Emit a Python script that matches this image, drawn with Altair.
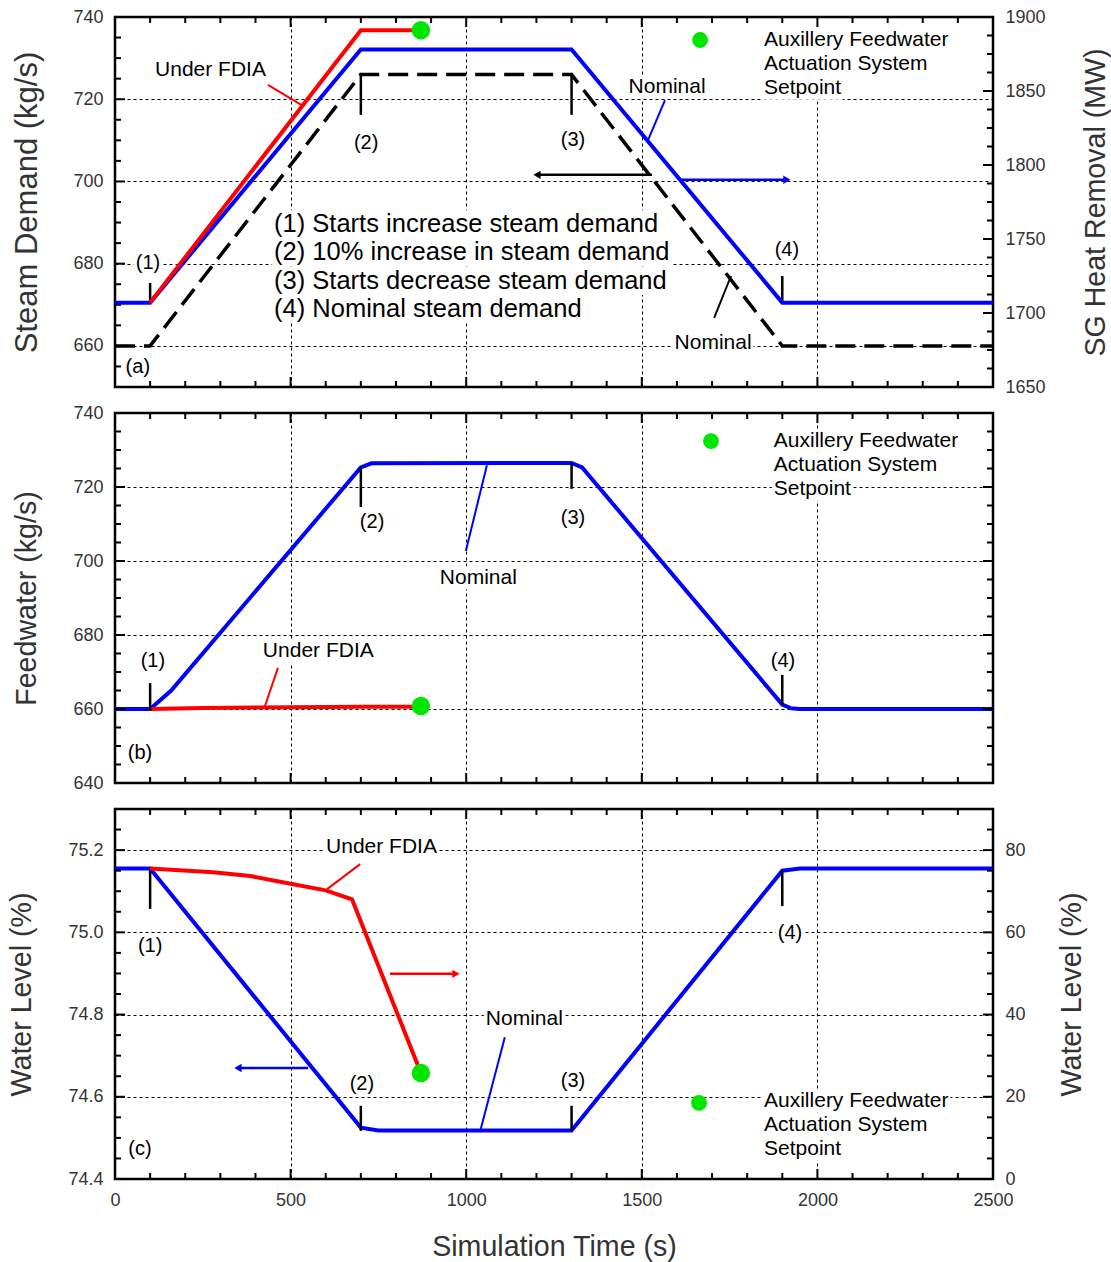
import altair as alt
import pandas as pd

FONT = "Liberation Sans"
W, H = 878, 370
BLUE = "#0000ff"
RED = "#ff0000"
GREEN = "#00e600"
BLACK = "#000000"
GREY = "#333333"

# ---------------- chart values ----------------
time_ticks = [0, 500, 1000, 1500, 2000, 2500]
time_minor = [100, 200, 300, 400, 600, 700, 800, 900, 1100, 1200, 1300, 1400,
              1600, 1700, 1800, 1900, 2100, 2200, 2300, 2400]

# (a) steam demand (left, kg/s) and SG heat removal (right, MW)
a_left_dom = [650, 740]
a_right_dom = [1650, 1900]
a_left_labels = [660, 680, 700, 720, 740]
a_right_labels = [1650, 1700, 1750, 1800, 1850, 1900]
a_time = [0, 100, 700, 1300, 1900, 2500]
a_steam_nominal = [660, 660, 726, 726, 660, 660]
a_heat_nominal = [1707, 1707, 1878, 1878, 1707, 1707]
a_fdia_time = [100, 700, 871]
a_heat_fdia = [1707, 1891, 1891]
a_afas_time = [871]
a_afas_heat = [1891]

# (b) feedwater (kg/s)
b_dom = [640, 740]
b_left_labels = [640, 660, 680, 700, 720, 740]
b_time = [0, 100, 160, 700, 730, 1300, 1330, 1900, 1925, 1950, 2500]
b_fw_nominal = [660, 660, 665, 725.3, 726.4, 726.5, 725.3, 661.2, 660.2, 660, 660]
b_fdia_time = [100, 250, 500, 700, 871]
b_fw_fdia = [660, 660.3, 660.5, 660.6, 660.6]
b_afas_time = [871]
b_afas_fw = [660.8]

# (c) water level (left %, right %)
c_left_dom = [74.4, 75.3]
c_right_dom = [0, 90]
c_left_labels = [74.4, 74.6, 74.8, 75.0, 75.2]
c_right_labels = [0, 20, 40, 60, 80]
c_time = [0, 100, 700, 750, 1300, 1900, 1950, 2500]
c_level_nominal = [75.155, 75.155, 74.525, 74.518, 74.518, 75.15, 75.155, 75.155]
c_fdia_time = [100, 280, 385, 500, 600, 675, 871]
c_level_fdia = [75.5, 74.6, 73.7, 71.8, 70.2, 68.0, 25.8]
c_afas_time = [871]
c_afas_level = [25.8]

# ---------------- annotations (data coordinates) ----------------
a_marks = [("(1)", 94, 680.2), ("(2)", 715, 709.4), ("(3)", 1304, 710.1),
           ("(4)", 1913, 683.3), ("(a)", 65, 654.9)]
a_names = [("Nominal", 1572, 723.0), ("Nominal", 1703, 660.7)]
a_left_text = [("Under FDIA", 114, 727.1), ("Auxillery Feedwater", 1848, 734.4),
               ("Actuation System", 1848, 728.6), ("Setpoint", 1848, 722.7)]
a_notes = [("(1) Starts increase steam demand", 453, 689.6),
           ("(2) 10% increase in steam demand", 453, 682.8),
           ("(3) Starts decrease steam demand", 453, 675.8),
           ("(4) Nominal steam demand", 453, 669.0)]
a_events = [(100, 670.7, 100, 675.3), (700, 726.4, 700, 716.2),
            (1300, 726.4, 1300, 716.2), (1900, 670.7, 1900, 677.0)]
a_red_leader = [(435.6, 723.5, 535, 718.4)]
a_blue_leader = [(1566, 719.8, 1518, 710.1)]
a_black_leader = [(1706, 666.8, 1754, 677.0)]
a_black_arrow = [(1201.6, 701.6, 1529, 701.6)]
a_black_head = [(1201.6, 701.6)]
a_blue_arrow = [(1606, 700.4, 1913, 700.4)]
a_blue_head = [(1913, 700.4)]
a_legend_dot = [(1666, 734.4)]

b_marks = [("(1)", 108, 673), ("(2)", 732, 710.5), ("(3)", 1304, 711.6),
           ("(4)", 1902, 673), ("(b)", 71, 648.1)]
b_left_text = [("Under FDIA", 421, 675.7), ("Nominal", 925, 695.4),
               ("Auxillery Feedwater", 1876, 732.4), ("Actuation System", 1876, 725.9),
               ("Setpoint", 1876, 719.5)]
b_events = [(100, 667.0, 100, 659.5), (700, 725.4, 700, 714.6),
            (1300, 726.5, 1300, 719.5), (1900, 669.2, 1900, 661.1)]
b_red_leader = [(464, 671.1, 427, 660.8)]
b_blue_leader = [(999, 702.7, 1059, 725.9)]
b_legend_dot = [(1697, 732.4)]

c_marks = [("(1)", 100, 74.967), ("(2)", 703, 74.631), ("(3)", 1304, 74.638),
           ("(4)", 1922, 74.998), ("(c)", 71, 74.473)]
c_left_text = [("Under FDIA", 601, 75.208), ("Nominal", 1056, 74.789),
               ("Auxillery Feedwater", 1848, 74.590), ("Actuation System", 1848, 74.531),
               ("Setpoint", 1848, 74.473)]
c_events = [(100, 75.154, 100, 75.057), (700, 74.578, 700, 74.517),
            (1300, 74.578, 1300, 74.517), (1900, 75.150, 1900, 75.064)]
c_red_leader = [(698, 75.166, 604, 75.105)]
c_blue_leader = [(1110, 74.745, 1039, 74.514)]
c_red_arrow = [(783, 74.899, 971, 74.899)]
c_red_head = [(971, 74.899)]
c_blue_arrow = [(550, 74.670, 350, 74.670)]
c_blue_head = [(350, 74.670)]
c_legend_dot = [(1663, 74.585)]

# Arial / Liberation Sans advance widths (1/1000 em), for text backdrops
CW = {" ": 278, "(": 333, ")": 333, "%": 889, "A": 667, "D": 722, "F": 611, "I": 278,
      "N": 722, "S": 667, "U": 722, "a": 556, "b": 556, "c": 500, "d": 556, "e": 556,
      "g": 556, "h": 556, "i": 222, "l": 222, "m": 833, "n": 556, "o": 556, "p": 556,
      "r": 333, "s": 500, "t": 278, "u": 556, "v": 500, "w": 722, "x": 500, "y": 500,
      "k": 500}


# ---------------- helpers ----------------
def xscale():
    return alt.Scale(domain=[0, 2500], nice=False, zero=False)


def yscale(dom):
    return alt.Scale(domain=dom, nice=False, zero=False)


def X(field, axis=None):
    if axis is None:
        return alt.X(f"{field}:Q", scale=xscale())
    return alt.X(f"{field}:Q", scale=xscale(), axis=axis)


def Y(field, dom, axis=None):
    if axis is None:
        return alt.Y(f"{field}:Q", scale=yscale(dom))
    return alt.Y(f"{field}:Q", scale=yscale(dom), axis=axis)


def x_axis(show_labels):
    kw = dict(values=time_ticks, grid=True, gridDash=[3, 3], gridColor=BLACK,
              gridWidth=1, ticks=False, domain=False, labels=show_labels, format="d",
              labelFont=FONT, labelFontSize=18, labelColor=GREY, labelPadding=12,
              labelFlush=False, titleFont=FONT, titleFontSize=28.6,
              titleFontWeight="normal", titleColor=GREY, titlePadding=23)
    kw["title"] = "Simulation Time (s)" if show_labels else ""
    return alt.Axis(**kw)


def y_axis(values, title, orient, title_x, fmt="d", title_size=28.6):
    return alt.Axis(values=values, orient=orient, grid=(orient == "left"), gridDash=[3, 3],
                    gridColor=BLACK, gridWidth=1, ticks=False, domain=False, format=fmt,
                    labelFont=FONT, labelFontSize=18, labelColor=GREY, labelPadding=12,
                    labelFlush=False, title=title, titleFont=FONT, titleFontSize=title_size,
                    titleFontWeight="normal", titleColor=GREY, titleAngle=270,
                    titleBaseline="middle", titleAlign="center", titleX=title_x)


def line(t, v, dom, color, width=4, dash=None, yaxis=None, xaxis=None):
    df = pd.DataFrame({"t": t, "v": v})
    mk = dict(color=color, strokeWidth=width)
    if dash:
        mk["strokeDash"] = dash
    return alt.Chart(df).mark_line(**mk).encode(x=X("t", xaxis), y=Y("v", dom, yaxis))


def texts(rows, dom, size=21, align="center", color=BLACK):
    df = pd.DataFrame(rows, columns=["label", "t", "v"])
    return alt.Chart(df).mark_text(font=FONT, fontSize=size, align=align,
                                   baseline="middle", color=color).encode(
        x=X("t"), y=Y("v", dom), text="label:N")


def backdrops(rows, dom, size=21, align="center"):
    span = dom[1] - dom[0]
    per_px_t = 2500 / W
    recs = []
    for label, t, v in rows:
        w = sum(CW.get(ch, 556) for ch in label) / 1000 * size + 4
        if align == "center":
            t0, t1 = t - w / 2 * per_px_t, t + w / 2 * per_px_t
        else:
            t0, t1 = t - 2 * per_px_t, t + (w - 2) * per_px_t
        dv = size * 0.55 * span / H
        recs.append((t0, v - dv, t1, v + dv))
    df = pd.DataFrame(recs, columns=["t", "v", "t2", "v2"])
    return alt.Chart(df).mark_rect(color="white", opacity=1).encode(
        x=X("t"), x2="t2:Q", y=Y("v", dom), y2="v2:Q")


def segs(rows, dom, color, width=2):
    df = pd.DataFrame(rows, columns=["t", "v", "t2", "v2"])
    return alt.Chart(df).mark_rule(color=color, strokeWidth=width).encode(
        x=X("t"), x2="t2:Q", y=Y("v", dom), y2="v2:Q")


def heads(rows, dom, color, shape):
    df = pd.DataFrame(rows, columns=["t", "v"])
    return alt.Chart(df).mark_point(shape=shape, filled=True, size=70, color=color,
                                    opacity=1).encode(x=X("t"), y=Y("v", dom))


def dots(t, v, dom, size):
    df = pd.DataFrame({"t": t, "v": v})
    return alt.Chart(df).mark_circle(size=size, color=GREEN, opacity=1).encode(
        x=X("t"), y=Y("v", dom))


def xticks():
    layers = []
    for vals, ln in ((time_ticks, 10), (time_minor, 6)):
        df = pd.DataFrame({"t": vals})
        for y0, y1 in ((H, H - ln), (0, ln)):
            layers.append(alt.Chart(df).mark_rule(color=BLACK, strokeWidth=2).encode(
                x=X("t"), y=alt.value(y0), y2=alt.value(y1)))
    return layers


def yticks(major, minor, dom, sides):
    layers = []
    for vals, ln in ((major, 10), (minor, 6)):
        df = pd.DataFrame({"v": vals})
        for side in sides:
            x0, x1 = (0, ln) if side == "left" else (W, W - ln)
            layers.append(alt.Chart(df).mark_rule(color=BLACK, strokeWidth=2).encode(
                y=Y("v", dom), x=alt.value(x0), x2=alt.value(x1)))
    return layers


def minor_of(lo, hi, step, majors):
    out = []
    n = int(round((hi - lo) / step))
    for i in range(1, n):
        val = round(lo + i * step, 4)
        if all(abs(val - m) > 1e-6 for m in majors):
            out.append(val)
    return out


# ---------------- panel (a) ----------------
a_left = alt.layer(
    backdrops(a_marks, a_left_dom, 20),
    backdrops(a_names, a_left_dom, 21),
    backdrops(a_left_text, a_left_dom, 21, align="left"),
    backdrops(a_notes, a_left_dom, 25.5, align="left"),
    line(a_time, a_steam_nominal, a_left_dom, BLACK, width=3.5, dash=[20, 9],
         yaxis=y_axis(a_left_labels, "Steam Demand (kg/s)", "left", -88, title_size=31),
         xaxis=x_axis(False)),
    *xticks(),
    *yticks(a_left_labels, minor_of(650, 740, 5, a_left_labels), a_left_dom, ["left"]),
    segs(a_events, a_left_dom, BLACK, 2.5),
    segs(a_red_leader, a_left_dom, RED, 2),
    segs(a_blue_leader, a_left_dom, BLUE, 2),
    segs(a_black_leader, a_left_dom, BLACK, 2),
    segs(a_black_arrow, a_left_dom, BLACK, 2.5),
    heads(a_black_head, a_left_dom, BLACK, "triangle-left"),
    segs(a_blue_arrow, a_left_dom, BLUE, 2.5),
    heads(a_blue_head, a_left_dom, BLUE, "triangle-right"),
    dots([p[0] for p in a_legend_dot], [p[1] for p in a_legend_dot], a_left_dom, 250),
    texts(a_marks, a_left_dom, size=20),
    texts(a_names, a_left_dom),
    texts(a_left_text, a_left_dom, align="left"),
    texts(a_notes, a_left_dom, size=25.5, align="left"),
)
a_right = alt.layer(
    line(a_time, a_heat_nominal, a_right_dom, BLUE, width=4,
         yaxis=y_axis(a_right_labels, "SG Heat Removal (MW)", "right", 102)),
    line(a_fdia_time, a_heat_fdia, a_right_dom, RED, width=4),
    dots(a_afas_time, a_afas_heat, a_right_dom, 340),
    *yticks(a_right_labels, minor_of(1650, 1900, 12.5, a_right_labels), a_right_dom, ["right"]),
)
panel_a = alt.layer(a_left, a_right).resolve_scale(y="independent").properties(width=W, height=H)

# ---------------- panel (b) ----------------
panel_b = alt.layer(
    backdrops(b_marks, b_dom, 20),
    backdrops(b_left_text, b_dom, 21, align="left"),
    line(b_time, b_fw_nominal, b_dom, BLUE, width=4,
         yaxis=y_axis(b_left_labels, "Feedwater (kg/s)", "left", -89),
         xaxis=x_axis(False)),
    line(b_fdia_time, b_fw_fdia, b_dom, RED, width=4),
    dots(b_afas_time, b_afas_fw, b_dom, 340),
    *xticks(),
    *yticks(b_left_labels, minor_of(640, 740, 5, b_left_labels), b_dom, ["left", "right"]),
    segs(b_events, b_dom, BLACK, 2.5),
    segs(b_red_leader, b_dom, RED, 2),
    segs(b_blue_leader, b_dom, BLUE, 2),
    dots([p[0] for p in b_legend_dot], [p[1] for p in b_legend_dot], b_dom, 250),
    texts(b_marks, b_dom, size=20),
    texts(b_left_text, b_dom, align="left"),
).properties(width=W, height=H)

# ---------------- panel (c) ----------------
c_left = alt.layer(
    backdrops(c_marks, c_left_dom, 20),
    backdrops(c_left_text, c_left_dom, 21, align="left"),
    line(c_time, c_level_nominal, c_left_dom, BLUE, width=4,
         yaxis=y_axis(c_left_labels, "Water Level (%)", "left", -94, fmt=".1f"),
         xaxis=x_axis(True)),
    *xticks(),
    *yticks(c_left_labels, minor_of(74.4, 75.3, 0.05, c_left_labels), c_left_dom, ["left"]),
    segs(c_events, c_left_dom, BLACK, 2.5),
    segs(c_red_leader, c_left_dom, RED, 2),
    segs(c_blue_leader, c_left_dom, BLUE, 2),
    segs(c_red_arrow, c_left_dom, RED, 2.5),
    heads(c_red_head, c_left_dom, RED, "triangle-right"),
    segs(c_blue_arrow, c_left_dom, BLUE, 2.5),
    heads(c_blue_head, c_left_dom, BLUE, "triangle-left"),
    dots([p[0] for p in c_legend_dot], [p[1] for p in c_legend_dot], c_left_dom, 250),
    texts(c_marks, c_left_dom, size=20),
    texts(c_left_text, c_left_dom, align="left"),
)
c_right = alt.layer(
    line(c_fdia_time, c_level_fdia, c_right_dom, RED, width=4,
         yaxis=y_axis(c_right_labels, "Water Level (%)", "right", 78)),
    dots(c_afas_time, c_afas_level, c_right_dom, 340),
    *yticks(c_right_labels, minor_of(0, 90, 5, c_right_labels), c_right_dom, ["right"]),
)
panel_c = alt.layer(c_left, c_right).resolve_scale(y="independent").properties(width=W, height=H)

chart = alt.vconcat(panel_a, panel_b, panel_c, spacing=26, bounds="flush").properties(
    padding={"left": 5, "top": 6, "right": 0, "bottom": 5}
).configure_view(stroke=BLACK, strokeWidth=2.5)

chart.save("out.html", embed_options={"renderer": "svg", "actions": False})
